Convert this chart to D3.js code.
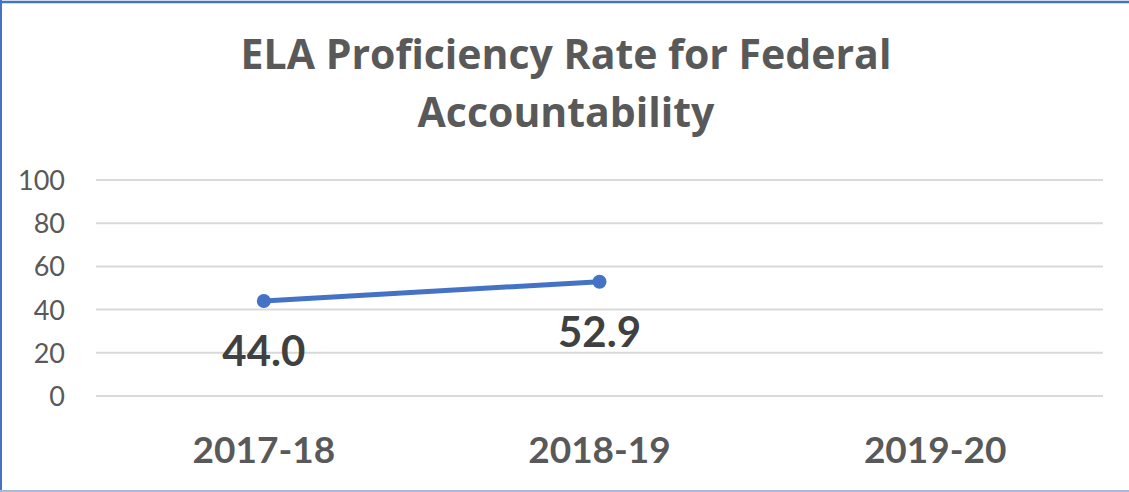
<!DOCTYPE html>
<html>
<head>
<meta charset="utf-8">
<script src="https://cdn.jsdelivr.net/npm/d3@7"></script>
<style>
  html, body { margin: 0; padding: 0; background: #fff; }
  body { width: 1129px; height: 492px; overflow: hidden; }
  text { font-family: Lato, "Open Sans", sans-serif; }
</style>
</head>
<body>
<script>
// chart data
const titleLines = ['ELA Proficiency Rate for Federal', 'Accountability']
const years = ['2017-18', '2018-19', '2019-20']
const rates = [44.0, 52.9, null]
const yTicks = [0, 20, 40, 60, 80, 100]

let width = 1129,
    height = 492

let svg = d3.select('body').append('svg')
  .attr('width', width)
  .attr('height', height)

// frame
svg.append('line').attr('x1', 0).attr('x2', width).attr('y1', 2).attr('y2', 2)
  .attr('stroke', '#4472c4').attr('stroke-width', 2.5)
svg.append('line').attr('x1', 1).attr('x2', 1).attr('y1', 0).attr('y2', height)
  .attr('stroke', '#4472c4').attr('stroke-width', 2)
svg.append('line').attr('x1', 0).attr('x2', width).attr('y1', 491).attr('y2', 491)
  .attr('stroke', '#a9b9da').attr('stroke-width', 2)

// title
svg.append('g').selectAll('text')
  .data(titleLines)
  .join('text')
    .attr('x', 566)
    .attr('y', (d, i) => 69 + i * 58)
    .attr('text-anchor', 'middle')
    .style('font-family', '"Open Sans", sans-serif')
    .style('font-size', '41px')
    .style('font-weight', 700)
    .style('fill', '#595959')
    .text(d => d)

let x = d3.scaleBand().domain(years).range([96, 1103])
let y = d3.scaleLinear().domain([0, 100]).range([396, 180])

// gridlines
svg.append('g').selectAll('line')
  .data(yTicks)
  .join('line')
    .attr('x1', 96).attr('x2', 1103)
    .attr('y1', d => y(d)).attr('y2', d => y(d))
    .attr('stroke', '#d9d9d9').attr('stroke-width', 2)

// y axis labels
let yAxis = svg.append('g')
  .attr('transform', 'translate(65,0)')
  .call(d3.axisLeft(y).tickValues(yTicks).tickSize(0).tickPadding(0))
yAxis.select('.domain').remove()
yAxis.selectAll('text')
  .attr('dy', '0.35em')
  .style('font-size', '27px')
  .style('font-family', 'Lato, sans-serif')
  .style('fill', '#595959')

// x axis labels
let xAxis = svg.append('g')
  .attr('transform', 'translate(0,463)')
  .call(d3.axisBottom(x).tickSize(0).tickPadding(0))
xAxis.select('.domain').remove()
xAxis.selectAll('text')
  .attr('dy', 0)
  .attr('y', 0)
  .style('font-size', '37px')
  .style('font-weight', 700)
  .style('font-family', 'Lato, sans-serif')
  .style('fill', '#595959')

let pts = years.map((d, i) => ({year: d, value: rates[i]})).filter(d => d.value != null)
let cx = d => x(d.year) + x.bandwidth() / 2

// line
let line = d3.line().x(cx).y(d => y(d.value))
svg.append('path')
  .datum(pts)
  .attr('d', line)
  .attr('fill', 'none')
  .attr('stroke', '#4472c4')
  .attr('stroke-width', 5)
  .attr('stroke-linecap', 'round')

svg.append('g').selectAll('circle')
  .data(pts)
  .join('circle')
    .attr('cx', cx)
    .attr('cy', d => y(d.value))
    .attr('r', 7)
    .attr('fill', '#4472c4')

// data labels
svg.append('g').selectAll('text')
  .data(pts)
  .join('text')
    .attr('x', cx)
    .attr('y', d => y(d.value) + 65)
    .attr('text-anchor', 'middle')
    .style('font-size', '42px')
    .style('font-weight', 700)
    .style('fill', '#404040')
    .text(d => d.value.toFixed(1))
</script>
</body>
</html>
